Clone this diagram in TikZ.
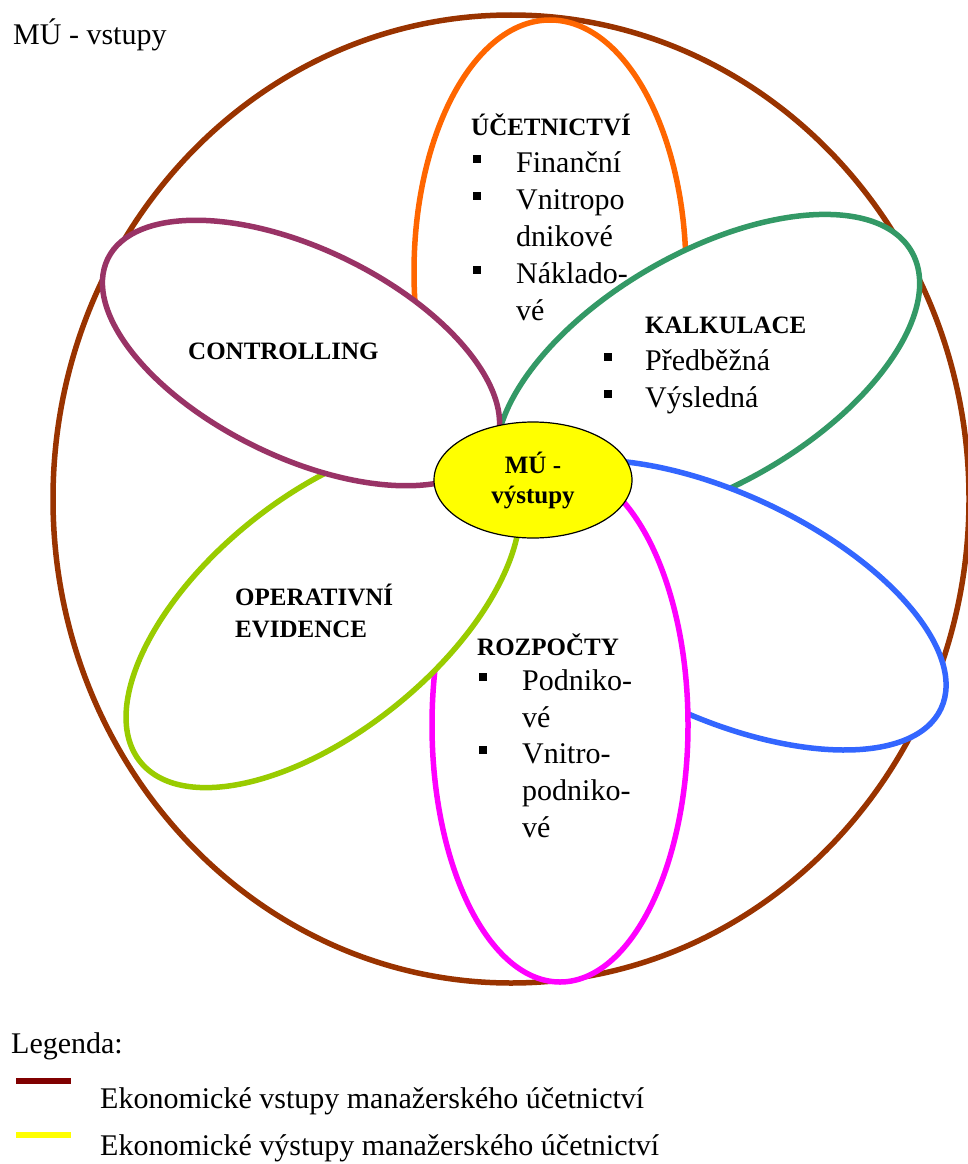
\documentclass[tikz,border=0pt]{standalone}
\usepackage{fontspec}
\setmainfont{Liberation Serif}
\definecolor{cbrown}{HTML}{993300}
\definecolor{corange}{HTML}{FF6600}
\definecolor{cgreen}{HTML}{339966}
\definecolor{cblue}{HTML}{3366FF}
\definecolor{cmagenta}{HTML}{FF00FF}
\definecolor{clime}{HTML}{99CC00}
\definecolor{cplum}{HTML}{993366}
\definecolor{cyellow}{HTML}{FFFF00}
\definecolor{cdarkred}{HTML}{800000}
\begin{document}
\begin{tikzpicture}[x=1pt,y=-1pt,
  petal/.style={line width=5.5pt, fill=white, draw=#1},
  head/.style={font=\fontsize{25}{30}\selectfont\bfseries, anchor=base west, inner sep=0pt},
  item/.style={font=\fontsize{30}{36}\selectfont, anchor=base west, inner sep=0pt},
  bul/.style={fill=black, rectangle, minimum size=8pt, inner sep=0pt},
  legbar/.style={line width=6pt},
]
\useasboundingbox (0,0) rectangle (968,1164);

% outer boundary: inputs of managerial accounting
\draw[line width=5.5pt, draw=cbrown] (511,499) ellipse (458 and 484);

% petals, each drawn over the previous one
\draw[petal=corange] (550,272) ellipse (136 and 252);
\draw[petal=cgreen, rotate around={30:(708,369)}] (708,369) ellipse (235 and 116);
\draw[petal=cblue, rotate around={-25:(719,605)}] (719,605) ellipse (245 and 112);
\draw[petal=cmagenta] (560,725) ellipse (128 and 257);
\draw[petal=clime, rotate around={39:(323,614)}] (323,614) ellipse (235 and 117);
\draw[petal=cplum, rotate around={-26:(301,353)}] (301,353) ellipse (215 and 104);

% centre: outputs
\draw[fill=cyellow, draw=black, line width=1.2pt] (533,480) ellipse (99 and 58);
\node[head, anchor=base] (out1) at (533,473) {MÚ -};
\node[head, anchor=base] (out2) at (533,503) {výstupy};

% title
\node[item] (inputs) at (13,45) {MÚ - vstupy};

% accounting
\node[head] (ucet) at (471,135) {ÚČETNICTVÍ};
\node[bul] (ub1) at (477,159) {};
\node[item] (u1) at (516,172) {Finanční};
\node[bul] (ub2) at (477,196) {};
\node[item] (u2) at (516,209) {Vnitropo};
\node[item] (u3) at (516,246) {dnikové};
\node[bul] (ub3) at (477,270) {};
\node[item] (u4) at (516,283) {Náklado-};
\node[item] (u5) at (516,320) {vé};

% costing
\node[head] (kalk) at (645,333) {KALKULACE};
\node[bul] (kb1) at (608,357) {};
\node[item] (k1) at (645,370) {Předběžná};
\node[bul] (kb2) at (608,394) {};
\node[item] (k2) at (645,407) {Výsledná};

% controlling
\node[head] (ctrl) at (188,359) {CONTROLLING};

% operative records
\node[head] (oper1) at (235,605) {OPERATIVNÍ};
\node[head] (oper2) at (235,637) {EVIDENCE};

% budgets
\node[head] (rozp) at (477,655) {ROZPOČTY};
\node[bul] (rb1) at (483,677) {};
\node[item] (r1) at (522,690) {Podniko-};
\node[item] (r2) at (522,727) {vé};
\node[bul] (rb2) at (483,750) {};
\node[item] (r3) at (522,763) {Vnitro-};
\node[item] (r4) at (522,800) {podniko-};
\node[item] (r5) at (522,837) {vé};

% legend
\node[item] (leg) at (11,1053) {Legenda:};
\coordinate (l1a) at (16,1081);
\coordinate (l1b) at (71,1081);
\draw[legbar, draw=cdarkred] (l1a) -- (l1b);
\node[item] (leg1) at (100,1108) {Ekonomické vstupy manažerského účetnictví};
\coordinate (l2a) at (16,1135);
\coordinate (l2b) at (71,1135);
\draw[legbar, draw=cyellow] (l2a) -- (l2b);
\node[item] (leg2) at (100,1155) {Ekonomické výstupy manažerského účetnictví};
\end{tikzpicture}
\end{document}
